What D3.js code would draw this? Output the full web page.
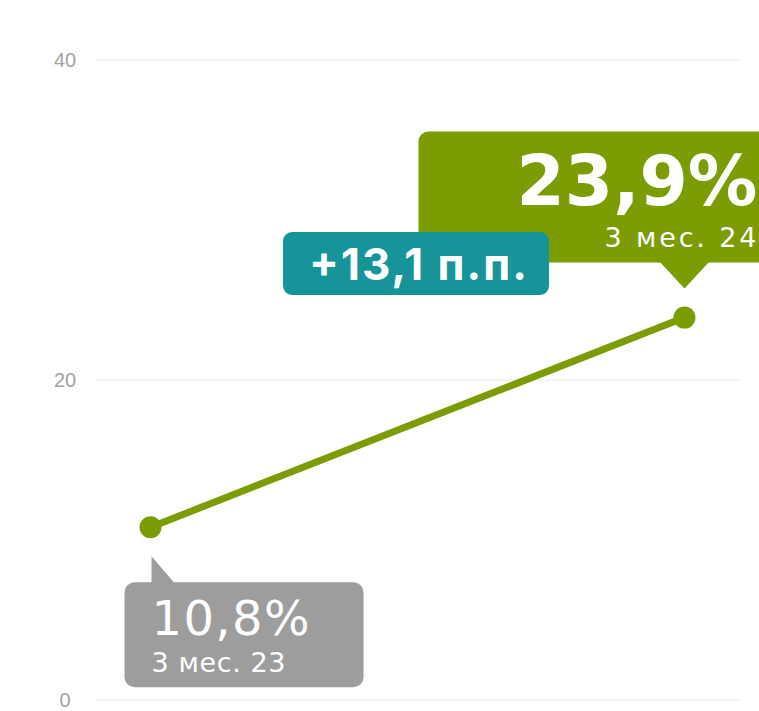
<!DOCTYPE html>
<html><head><meta charset="utf-8">
<script src="https://cdn.jsdelivr.net/npm/d3@7"></script>
<style>html,body{margin:0;padding:0;background:#fff;overflow:hidden}</style>
</head><body>
<svg id="c" width="759" height="711"></svg>
<script>
const categories = ["3 мес. 23", "3 мес. 24"];
const values = [10.8, 23.9];
const valueLabels = ["10,8%", "23,9%"];
const deltaLabel = "+13,1 п.п.";
const yTicks = [0, 20, 40];

const svg = d3.select("#c");
const x = d3.scalePoint().domain(categories).range([95, 740]).padding(0.104);
const y = d3.scaleLinear().domain([0, 40]).range([700, 60]);

// grid
const grid = svg.append("g");
grid.selectAll("line").data(yTicks).join("line")
  .attr("x1", 95).attr("x2", 742)
  .attr("y1", d => y(d)).attr("y2", d => y(d))
  .attr("stroke", "#f1f1f1").attr("stroke-width", 1.5);
grid.selectAll("text").data(yTicks).join("text")
  .attr("x", 65).attr("y", d => y(d) + 7)
  .attr("text-anchor", "middle")
  .attr("font-family", "Liberation Sans, Arial, sans-serif")
  .attr("font-size", 20).attr("fill", "#a3a3a3")
  .text(d => d);

const green = "#7b9c03", teal = "#17949a", grey = "#9d9d9d";
const pts = categories.map((c, i) => ({c, v: values[i], label: valueLabels[i]}));

// line
svg.append("path").datum(pts)
  .attr("d", d3.line().x(d => x(d.c)).y(d => y(d.v)))
  .attr("fill", "none").attr("stroke", green).attr("stroke-width", 7)
  .attr("stroke-linecap", "round");
svg.selectAll("circle.pt").data(pts).join("circle")
  .attr("class", "pt")
  .attr("cx", d => x(d.c)).attr("cy", d => y(d.v)).attr("r", 11)
  .attr("fill", green);

// Grey callout for first point
const p0 = pts[0], x0 = x(p0.c), y0 = y(p0.v);
const g0 = svg.append("g");
g0.append("path")
  .attr("d", `M${x0+1},${y0+29} L${x0+1},${y0+57} L${x0+25},${y0+57} Z`)
  .attr("fill", grey);
g0.append("rect").attr("x", x0 - 26).attr("y", y0 + 55)
  .attr("width", 239).attr("height", 105).attr("rx", 10).attr("fill", grey);
g0.append("text").attr("x", x0 + 1).attr("y", y0 + 108)
  .attr("font-family", "DejaVu Sans, sans-serif").attr("font-weight", 400)
  .attr("font-size", 48).attr("fill", "#fff")
  .attr("textLength", 158).attr("lengthAdjust", "spacing").text(p0.label);
g0.append("text").attr("x", x0 + 1).attr("y", y0 + 145)
  .attr("font-family", "DejaVu Sans, sans-serif")
  .attr("font-size", 27).attr("fill", "#fff")
  .attr("textLength", 134).attr("lengthAdjust", "spacing").text(p0.c);

// Green callout for second point
const p1 = pts[1], x1 = x(p1.c), y1 = y(p1.v);
const g1 = svg.append("g");
g1.append("rect").attr("x", x1 - 266).attr("y", y1 - 186)
  .attr("width", 400).attr("height", 131).attr("rx", 10).attr("fill", green);
g1.append("path")
  .attr("d", `M${x1-25},${y1-56} L${x1+25},${y1-56} L${x1},${y1-29} Z`)
  .attr("fill", green);
g1.append("text").attr("x", x1 - 168).attr("y", y1 - 113)
  .attr("font-family", "DejaVu Sans, sans-serif").attr("font-weight", 700)
  .attr("font-size", 70).attr("fill", "#fff")
  .attr("textLength", 241).attr("lengthAdjust", "spacingAndGlyphs").text(p1.label);
g1.append("text").attr("x", x1 - 80).attr("y", y1 - 71)
  .attr("font-family", "DejaVu Sans, sans-serif")
  .attr("font-size", 27).attr("fill", "#fff")
  .attr("textLength", 152).attr("lengthAdjust", "spacing").text(p1.c);

// Teal delta badge
const g2 = svg.append("g");
g2.append("rect").attr("x", 283).attr("y", 232).attr("width", 266).attr("height", 63)
  .attr("rx", 9).attr("fill", teal);
g2.append("text").attr("x", 309).attr("y", 280)
  .attr("font-family", "Inter, sans-serif").attr("font-weight", 700)
  .attr("font-size", 44).attr("fill", "#fff")
  .attr("textLength", 218).attr("lengthAdjust", "spacing").text(deltaLabel);
</script>
</body></html>
